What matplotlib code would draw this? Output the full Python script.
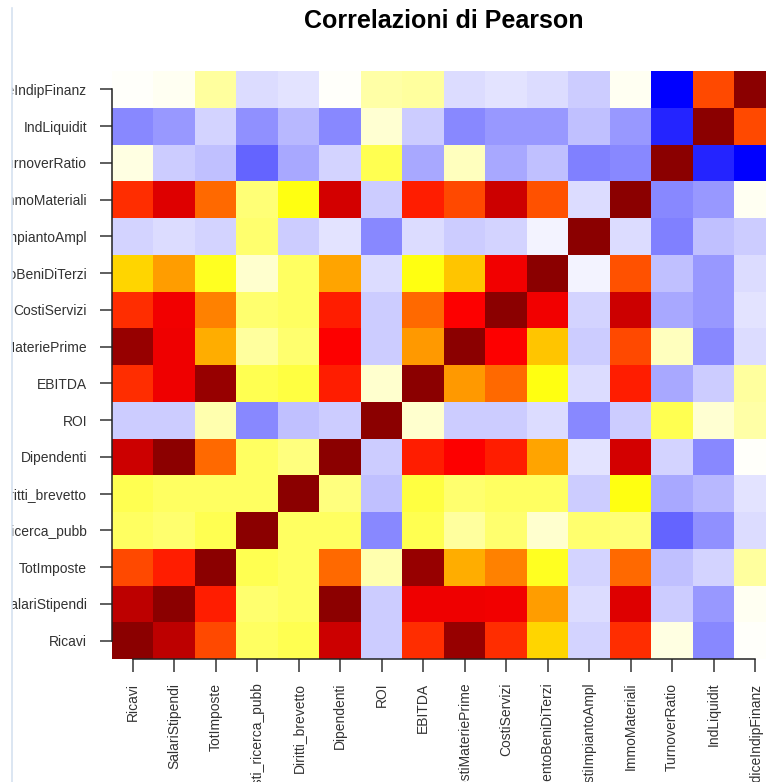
import numpy as np
import matplotlib
matplotlib.use("Agg")
import matplotlib.pyplot as plt
from matplotlib.colors import LinearSegmentedColormap
from matplotlib.patches import Rectangle
from matplotlib.lines import Line2D

# variable names (bottom-to-top on y, left-to-right on x)
variabili = ["Ricavi", "SalariStipendi", "TotImposte", "Costi_ricerca_pubb",
             "Diritti_brevetto", "Dipendenti", "ROI", "EBITDA",
             "CostiMateriePrime", "CostiServizi", "GodimentoBeniDiTerzi",
             "CostiImpiantoAmpl", "ImmoMateriali", "TurnoverRatio",
             "IndLiquidit", "IndiceIndipFinanz"]

# Pearson correlations, lower triangle (row i, columns 0..i-1)
tri = [
    [],
    [0.85],
    [0.57, 0.63],
    [0.21, 0.19, 0.23],
    [0.23, 0.21, 0.21, 0.21],
    [0.81, 0.99, 0.53, 0.21, 0.17],
    [-0.06, -0.06, 0.11, -0.15, -0.08, -0.06],
    [0.61, 0.71, 0.96, 0.23, 0.25, 0.63, 0.07],
    [0.96, 0.71, 0.44, 0.13, 0.19, 0.67, -0.06, 0.47],
    [0.61, 0.70, 0.50, 0.19, 0.21, 0.63, -0.06, 0.53, 0.67],
    [0.39, 0.46, 0.29, 0.07, 0.21, 0.45, -0.04, 0.31, 0.41, 0.70],
    [-0.05, -0.04, -0.05, 0.19, -0.06, -0.03, -0.15, -0.04, -0.06, -0.05, -0.01],
    [0.61, 0.76, 0.53, 0.18, 0.31, 0.79, -0.06, 0.63, 0.57, 0.81, 0.56, -0.04],
    [0.04, -0.06, -0.08, -0.20, -0.11, -0.05, 0.23, -0.11, 0.09, -0.11, -0.08, -0.16, -0.15],
    [-0.15, -0.13, -0.05, -0.14, -0.09, -0.15, 0.06, -0.06, -0.15, -0.13, -0.13, -0.08, -0.13, -0.28],
    [0.01, 0.02, 0.13, -0.04, -0.03, 0.01, 0.12, 0.13, -0.04, -0.03, -0.04, -0.06, 0.02, -0.33, 0.57],
]

n = len(variabili)
cor = np.eye(n)
for i, row in enumerate(tri):
    for j, v in enumerate(row):
        cor[i, j] = v
        cor[j, i] = v

cmap = LinearSegmentedColormap.from_list(
    "corr", ["blue", "white", "yellow", "red", "darkred"])

W, H = 766, 782
fig = plt.figure(figsize=(W / 100, H / 100), dpi=100)
ax = fig.add_axes([112 / W, 123 / H, 664 / W, 588 / H])

ax.imshow(cor, cmap=cmap, vmin=cor.min(), vmax=cor.max(), origin="lower",
          aspect="auto", interpolation="nearest",
          extent=(-0.5, n - 0.5, -0.5, n - 0.5))

ax.set_xticks(range(n))
ax.set_yticks(range(n))
ax.set_xticklabels(variabili, rotation=90, va="top")
ax.set_yticklabels(variabili)
ax.tick_params(axis="both", length=9, width=1.1, color="#333333",
               labelsize=10, labelcolor="#333333")
ax.tick_params(axis="x", pad=8)
ax.tick_params(axis="y", pad=9)
for lab in ax.get_xticklabels() + ax.get_yticklabels():
    lab.set_fontfamily(["Liberation Sans", "DejaVu Sans"])

for s in ["top", "right"]:
    ax.spines[s].set_visible(False)
for s in ["left", "bottom"]:
    ax.spines[s].set_bounds(0, n - 1)
    ax.spines[s].set_color("#222222")
    ax.spines[s].set_linewidth(1.1)

fig.text(444 / W, 1 - 21 / H, "Correlazioni di Pearson", ha="center",
         va="center", fontsize=18, fontweight="bold",
         family=["Liberation Sans", "DejaVu Sans"])

# screenshot border on the left
fig.patches.append(Rectangle((0, 0), 12 / W, 1, transform=fig.transFigure,
                             facecolor="white", edgecolor="none", zorder=10))
fig.lines.append(Line2D([12 / W, 12 / W], [0, 1 - 8 / H],
                        transform=fig.transFigure, color="#d6e2f0",
                        linewidth=1.2, zorder=11))

fig.savefig("out.png", dpi=100)
